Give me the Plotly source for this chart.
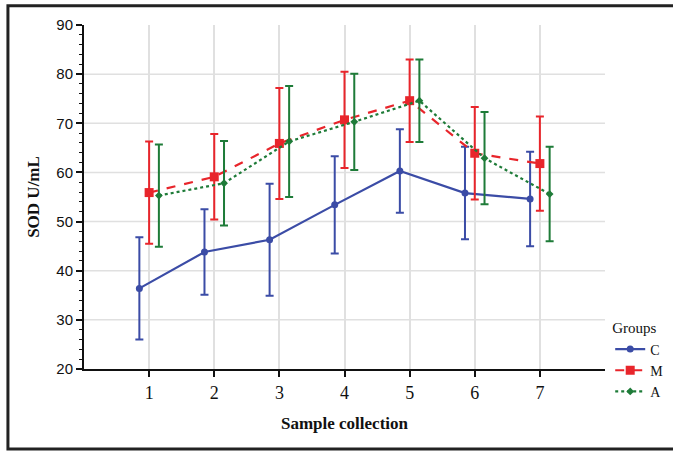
import plotly.graph_objects as go

categories = [1, 2, 3, 4, 5, 6, 7]
groups = ["C", "M", "A"]

c_mean = [36.4, 43.8, 46.3, 53.4, 60.3, 55.8, 54.6]
c_err = [10.4, 8.7, 11.4, 9.9, 8.5, 9.4, 9.6]

m_mean = [55.9, 59.1, 65.9, 70.7, 74.6, 63.9, 61.8]
m_err = [10.4, 8.7, 11.3, 9.8, 8.4, 9.4, 9.6]

a_mean = [55.3, 57.8, 66.3, 70.3, 74.6, 62.9, 55.6]
a_err = [10.4, 8.6, 11.3, 9.8, 8.4, 9.4, 9.6]

offsets = [-0.15, 0.0, 0.15]
colors = ["#3B4CA6", "#E8252B", "#1E7B38"]
dashes = ["solid", "dash", "dot"]
symbols = ["circle", "square", "diamond"]
msizes = [7, 9, 6]

ytick_vals = [20, 30, 40, 50, 60, 70, 80, 90]

fig = go.Figure()
for name, mean, err, off, col, dash, sym, ms in zip(
        groups, [c_mean, m_mean, a_mean], [c_err, m_err, a_err],
        offsets, colors, dashes, symbols, msizes):
    fig.add_trace(go.Scatter(
        x=[c + off for c in categories], y=mean, name=name,
        mode="lines+markers",
        line=dict(color=col, width=2.2, dash=dash),
        marker=dict(color=col, symbol=sym, size=ms),
        error_y=dict(type="data", array=err, visible=True, color=col,
                     thickness=2, width=4),
    ))

# horizontal gridlines (no line at the top value)
for v in ytick_vals[1:-1]:
    fig.add_shape(type="line", xref="x", yref="y", x0=0, x1=8, y0=v, y1=v,
                  line=dict(color="#E0E0E0", width=1.5), layer="below")

# outer frame
fig.add_shape(type="rect", xref="paper", yref="paper",
              x0=-0.146, x1=1.5, y0=-0.2326, y1=1.056,
              line=dict(color="#222222", width=3), layer="above")

fig.update_layout(
    width=673, height=453,
    margin=dict(l=84, r=68, t=25, b=84, autoexpand=False),
    plot_bgcolor="white", paper_bgcolor="white",
    showlegend=True,
    legend=dict(
        x=1.01, y=0.16, xanchor="left", yanchor="top",
        title=dict(text="Groups", font=dict(family="Liberation Serif", size=15, color="#111")),
        font=dict(family="Liberation Serif", size=14, color="#111"),
        bgcolor="rgba(0,0,0,0)", tracegroupgap=0, itemwidth=30,
    ),
    xaxis=dict(
        range=[0, 8], tickvals=categories, ticktext=[str(c) for c in categories],
        showgrid=True, gridcolor="#E0E0E0", gridwidth=1.5, zeroline=False,
        showline=True, linecolor="#111", linewidth=2,
        ticks="outside", ticklen=6, tickwidth=1.5, tickcolor="#111",
        tickfont=dict(family="Liberation Serif", size=18, color="#111"),
        title=dict(text="<b>Sample collection</b>",
                   font=dict(family="Liberation Serif", size=17, color="#111"), standoff=16),
    ),
    yaxis=dict(
        range=[20, 90], tickvals=ytick_vals,
        showgrid=False, zeroline=False,
        showline=True, linecolor="#111", linewidth=2,
        ticks="outside", ticklen=6, tickwidth=1.5, tickcolor="#111",
        minor=dict(dtick=2, ticks="outside", ticklen=3, tickwidth=1.2, tickcolor="#111", showgrid=False),
        tickfont=dict(family="Liberation Sans", size=15, color="#111"),
        title=dict(text="<b>SOD U/mL</b>",
                   font=dict(family="Liberation Serif", size=17, color="#111"), standoff=12),
    ),
)

fig.write_html("out.html", config={"displayModeBar": False},
               post_script="document.body.style.margin='0';")
